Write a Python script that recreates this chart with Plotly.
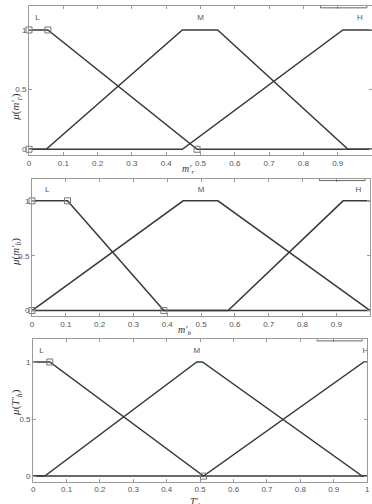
import plotly.graph_objects as go

# membership functions, one panel each
x_ticks = [0, 0.1, 0.2, 0.3, 0.4, 0.5, 0.6, 0.7, 0.8, 0.9, 1]

p1_L_x = [0, 0.055, 0.49, 1]
p1_L_y = [1, 1, 0, 0]
p1_M_x = [0, 0.05, 0.447, 0.55, 0.93, 1]
p1_M_y = [0, 0, 1, 1, 0, 0]
p1_H_x = [0, 0.447, 0.915, 1]
p1_H_y = [0, 0, 1, 1]
p1_mk_x = [0, 0.055, 0, 0.49]
p1_mk_y = [1, 1, 0, 0]

p2_L_x = [0, 0.105, 0.39, 1]
p2_L_y = [1, 1, 0, 0]
p2_M_x = [0, 0.447, 0.55, 1]
p2_M_y = [0, 1, 1, 0]
p2_H_x = [0, 0.58, 0.92, 1]
p2_H_y = [0, 0, 1, 1]
p2_mk_x = [0, 0.105, 0, 0.39]
p2_mk_y = [1, 1, 0, 0]

p3_L_x = [0, 0.05, 0.51, 1]
p3_L_y = [1, 1, 0, 0]
p3_M_x = [0, 0.035, 0.49, 0.507, 0.985, 1]
p3_M_y = [0, 0, 1, 1, 0, 0]
p3_H_x = [0, 0.51, 0.99, 1]
p3_H_y = [0, 0, 1, 1]
p3_mk_x = [0.05, 0.51]
p3_mk_y = [1, 0]

lab_text = ["L", "M", "H"]
p1_lab_x = [0.025, 0.5, 0.965]
p2_lab_x = [0.045, 0.5, 0.965]
p3_lab_x = [0.025, 0.49, 0.995]
lab_y = 1.1

xtitles = ["<i>m′<sub>r</sub></i>", "<i>m′<sub>b</sub></i>", "<i>T′<sub>h</sub></i>"]
ytitles = ["<i>μ</i>(<i>m′<sub>r</sub></i>)", "<i>μ</i>(<i>m′<sub>b</sub></i>)", "<i>μ</i>(<i>T′<sub>h</sub></i>)"]

panels = [
    (p1_L_x, p1_L_y, p1_M_x, p1_M_y, p1_H_x, p1_H_y, p1_mk_x, p1_mk_y, p1_lab_x),
    (p2_L_x, p2_L_y, p2_M_x, p2_M_y, p2_H_x, p2_H_y, p2_mk_x, p2_mk_y, p2_lab_x),
    (p3_L_x, p3_L_y, p3_M_x, p3_M_y, p3_H_x, p3_H_y, p3_mk_x, p3_mk_y, p3_lab_x),
]
xdoms = [[0.078, 1.0], [0.086, 0.995], [0.089, 0.987]]
ydoms = [[0.692, 0.988], [0.373, 0.645], [0.044, 0.327]]
xtitle_pos = [(0.505, 0.681), (0.497, 0.362), (0.527, 0.02)]
ytitle_pos = [(0.019, 0.82), (0.019, 0.50), (0.019, 0.17)]

line_col = "#3a3a3a"
axis_col = "#9a9a9a"
txt_col = "#555555"

fig = go.Figure()
for i, (Lx, Ly, Mx, My, Hx, Hy, mx, my, labx) in enumerate(panels):
    n = "" if i == 0 else str(i + 1)
    for xs, ys in [(Lx, Ly), (Mx, My), (Hx, Hy)]:
        fig.add_trace(go.Scatter(x=xs, y=ys, mode="lines", xaxis="x" + n, yaxis="y" + n,
                                 line=dict(color=line_col, width=1.5), showlegend=False))
    fig.add_trace(go.Scatter(x=mx, y=my, mode="markers", xaxis="x" + n, yaxis="y" + n,
                             marker=dict(symbol="square-open", size=6, color="#777777", line=dict(width=1)),
                             cliponaxis=False, showlegend=False))
    fig.add_trace(go.Scatter(x=labx, y=[lab_y] * 3, mode="text", text=lab_text, xaxis="x" + n, yaxis="y" + n,
                             textfont=dict(size=8, color=txt_col, family="Liberation Sans"),
                             cliponaxis=False, showlegend=False))
    # clipped legend box edge at top right
    fig.add_shape(type="path", path="M 0.85 1.2 L 0.85 1.185 L 0.985 1.185 L 0.985 1.2",
                  xref="x" + n, yref="y" + n, line=dict(color="#666666", width=1))

    fig.add_annotation(text=xtitles[i], x=xtitle_pos[i][0], y=xtitle_pos[i][1], xref="paper", yref="paper",
                       yanchor="top", showarrow=False, font=dict(size=10, color="#333", family="Liberation Serif"))
    fig.add_annotation(text=ytitles[i], x=ytitle_pos[i][0], y=ytitle_pos[i][1], xref="paper", yref="paper",
                       textangle=-90, showarrow=False, font=dict(size=11, color="#333", family="Liberation Serif"))

    ax = dict(showline=True, linecolor=axis_col, linewidth=1, mirror="ticks", ticks="inside", ticklen=3,
              tickcolor=axis_col, showgrid=False, zeroline=False, automargin=False,
              tickfont=dict(size=8, color=txt_col, family="Liberation Sans"))
    fig.update_layout(**{
        "xaxis" + n: dict(ax, domain=xdoms[i], range=[0, 1], tickvals=x_ticks,
                          ticktext=[("%g" % v) for v in x_ticks], anchor="y" + n),
        "yaxis" + n: dict(ax, domain=ydoms[i], range=[-0.05, 1.2], tickvals=[0, 0.5, 1], anchor="x" + n),
    })

fig.update_layout(width=372, height=504, margin=dict(l=0, r=0, t=0, b=0),
                  plot_bgcolor="white", paper_bgcolor="white")
fig.write_html("out.html", config={"displayModeBar": False},
               post_script="document.body.style.margin='0';")
